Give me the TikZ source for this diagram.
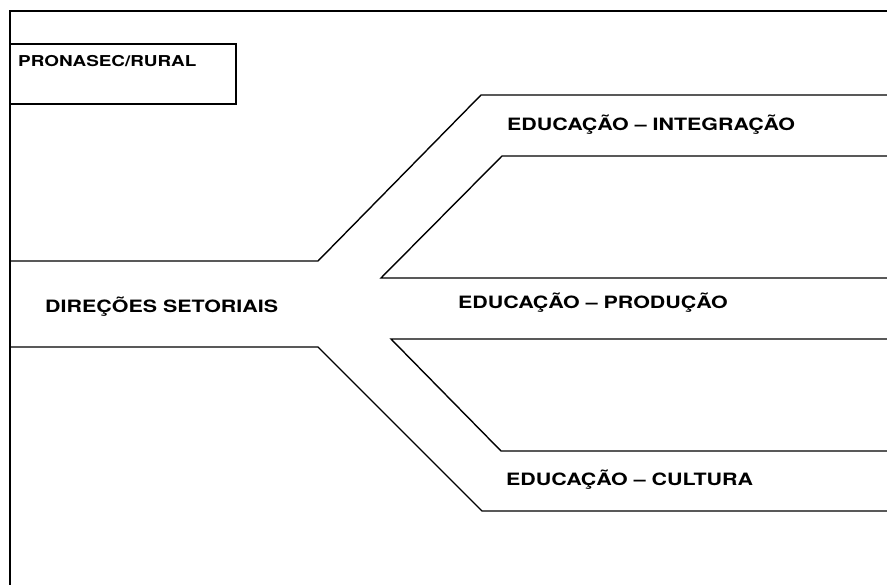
\documentclass[tikz,border=0pt]{standalone}
\usepackage{fontspec}
\setmainfont{TeX Gyre Heros}
\newfontfamily\lblfont[FakeStretch=1.26,Ligatures=TeX]{TeX Gyre Heros}
\begin{document}
\begin{tikzpicture}[x=1pt,y=-1pt,
  ln/.style={line width=1.4pt,black},
  lbl/.style={font=\lblfont\bfseries\fontsize{17}{17}\selectfont,anchor=west,inner sep=0pt},
  small/.style={font=\lblfont\bfseries\fontsize{15}{15}\selectfont,anchor=west,inner sep=0pt}]
\useasboundingbox (0,0) rectangle (887,585);
% frame
\coordinate (ftl) at (10,11);
\coordinate (ftr) at (887,11);
\coordinate (fbl) at (10,585);
\draw[line width=2pt] (ftr) -- (ftl) -- (fbl);
% PRONASEC box
\coordinate (pa) at (10,44);
\coordinate (pb) at (236,44);
\coordinate (pc) at (236,104);
\coordinate (pd) at (10,104);
\draw[ln] (pa) -- (pb) -- (pc) -- (pd);
\node[small] (pron) at (18,61) {PRONASEC/RURAL};
% stem and branches
\coordinate (s1) at (10,261);
\coordinate (u1) at (318,261);
\coordinate (u2) at (481,95);
\coordinate (u3) at (887,95);
\coordinate (ui1) at (887,156);
\coordinate (ui2) at (502,156);
\coordinate (ui3) at (381,278);
\coordinate (ui4) at (887,278);
\coordinate (li1) at (887,339);
\coordinate (li2) at (391,339);
\coordinate (li3) at (501,451);
\coordinate (li4) at (887,451);
\coordinate (s2) at (10,347);
\coordinate (l1) at (318,347);
\coordinate (l2) at (482,511);
\coordinate (l3) at (887,511);
\draw[ln] (s1) -- (u1) -- (u2) -- (u3);
\draw[ln] (ui1) -- (ui2) -- (ui3) -- (ui4);
\draw[ln] (li1) -- (li2) -- (li3) -- (li4);
\draw[ln] (s2) -- (l1) -- (l2) -- (l3);
% labels
\node[lbl] (dir) at (45,307) {DIREÇÕES SETORIAIS};
\node[lbl] (int) at (507,125) {EDUCAÇÃO – INTEGRAÇÃO};
\node[lbl] (prod) at (458,303) {EDUCAÇÃO – PRODUÇÃO};
\node[lbl] (cult) at (506,480) {EDUCAÇÃO – CULTURA};
\end{tikzpicture}
\end{document}
